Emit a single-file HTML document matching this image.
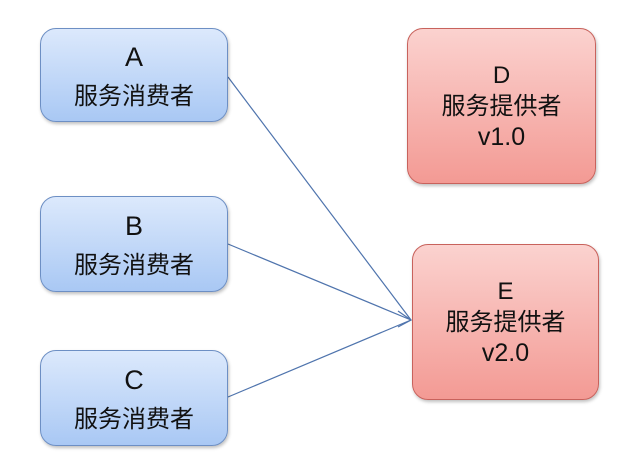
<!DOCTYPE html>
<html><head><meta charset="utf-8"><style>
body{margin:0;width:639px;height:473px;background:#fff;position:relative;overflow:hidden;font-family:"Liberation Sans","Noto Sans CJK SC",sans-serif;color:#111}
.b{position:absolute;box-sizing:border-box;border-radius:16px;display:flex;flex-direction:column;align-items:center;justify-content:center;text-align:center;font-size:24px;line-height:38px;box-shadow:1px 2px 3px rgba(0,0,0,.25)}
.blue{background:linear-gradient(#dce9fc,#a9c8f4);border:1.5px solid #6d8fc4;padding-top:4px}
.red{background:linear-gradient(#fbd2cf,#f39a94);border:1.5px solid #c8625c;line-height:31px}
.L{font-size:27px}
</style></head><body>
<svg width="639" height="473" style="position:absolute;left:0;top:0">
<g stroke="#4f74ad" stroke-width="1.2" fill="none">
<line x1="228" y1="77" x2="411" y2="320"/>
<line x1="228" y1="244" x2="411" y2="320"/>
<line x1="228" y1="397" x2="411" y2="320"/>
<polyline points="398,311 411,320 398,327"/>
</g></svg>
<div class="b blue" style="left:40px;top:28px;width:188px;height:94px"><div><span class="L">A</span><br>服务消费者</div></div>
<div class="b blue" style="left:40px;top:196px;width:188px;height:96px"><div><span class="L">B</span><br>服务消费者</div></div>
<div class="b blue" style="left:40px;top:350px;width:188px;height:96px"><div><span class="L">C</span><br>服务消费者</div></div>
<div class="b red" style="left:407px;top:28px;width:189px;height:156px"><div>D<br>服务提供者<br><span class="L" style="font-size:25px">v1.0</span></div></div>
<div class="b red" style="left:412px;top:244px;width:187px;height:156px"><div>E<br>服务提供者<br><span class="L" style="font-size:25px">v2.0</span></div></div>
</body></html>
